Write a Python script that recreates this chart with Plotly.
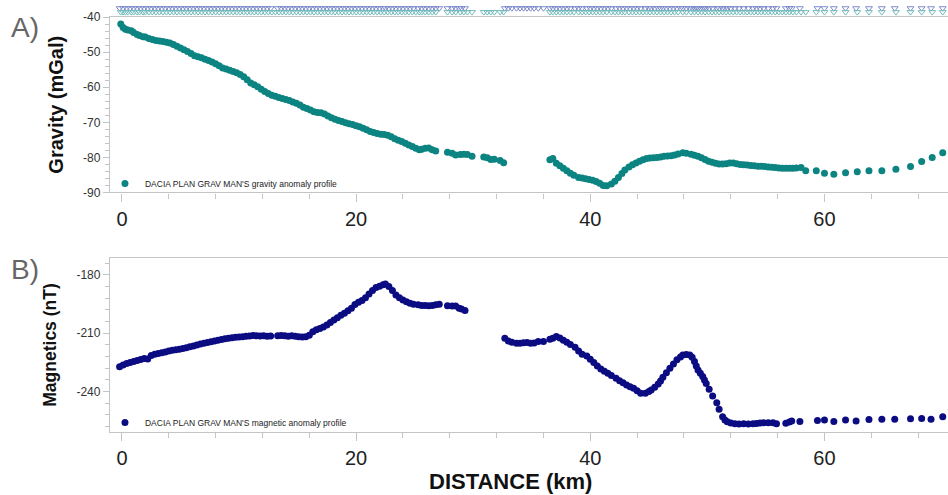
import plotly.graph_objects as go

# ---------------- data ----------------
grav_km = [-0.1, 0.1, 0.3, 0.5, 0.8, 1.0, 1.3, 1.5, 1.8, 2.0, 2.3, 2.6, 2.9, 3.2, 3.5, 3.8, 4.1, 4.4, 4.7, 5.0,
           5.3, 5.6, 5.9, 6.2, 6.5, 6.8, 7.1, 7.4, 7.7, 8.0, 8.3, 8.6, 8.9, 9.2, 9.5, 9.8, 10.1, 10.4, 10.7, 11.0,
           11.3, 11.6, 11.9, 12.2, 12.5, 12.8, 13.1, 13.4, 13.7, 14.0, 14.3, 14.6, 14.9, 15.2, 15.5, 15.8, 16.1,
           16.4, 16.7, 17.0, 17.3, 17.6, 17.9, 18.2, 18.5, 18.8, 19.1, 19.4, 19.7, 20.0, 20.3, 20.6, 20.9, 21.2,
           21.5, 21.8, 22.1, 22.4, 22.7, 23.0, 23.3, 23.6, 23.9, 24.2, 24.5, 24.8, 25.1, 25.4, 25.6, 25.9, 26.2,
           26.5, 26.8, 27.8, 28.2, 28.5, 28.9, 29.2, 29.5, 29.9, 30.9, 31.2, 31.5, 31.8, 32.3, 32.6,
           36.55, 36.8, 37.1, 37.4, 37.7, 38.0, 38.3, 38.6, 39.0, 39.3, 39.6, 39.9, 40.2, 40.5, 40.8, 41.1, 41.4,
           41.8, 42.1, 42.4, 42.7, 42.95, 43.3, 43.6, 43.9, 44.2, 44.5, 44.8, 45.1, 45.4, 45.7, 46.0, 46.3, 46.6,
           46.9, 47.2, 47.5, 47.9, 48.2, 48.6, 48.9, 49.2, 49.5, 49.8, 50.1, 50.4, 50.7, 51.0, 51.3, 51.6, 51.9,
           52.2, 52.5, 52.8, 53.1, 53.4, 53.7, 54.0, 54.3, 54.6, 54.9, 55.2, 55.5, 55.8, 56.1, 56.4, 56.7, 57.0,
           57.3, 57.6, 58.0, 58.4, 59.3, 60.0, 60.8, 61.8, 62.8, 63.8, 64.9, 66.1, 67.35, 68.3, 69.2, 70.1]
grav_mgal = [-42.0, -43.0, -43.5, -43.7, -43.9, -44.4, -45.0, -45.3, -45.6, -45.7, -46.1, -46.4, -46.7, -46.8,
             -47.0, -47.2, -47.4, -47.8, -48.3, -48.8, -49.3, -49.8, -50.4, -51.0, -51.3, -51.6, -52.0, -52.4,
             -52.8, -53.3, -53.9, -54.5, -54.8, -55.2, -55.5, -55.9, -56.4, -57.0, -57.9, -58.8, -59.3, -59.9,
             -60.6, -61.2, -61.8, -62.3, -62.6, -62.9, -63.2, -63.5, -63.8, -64.2, -64.6, -65.1, -65.7, -66.1,
             -66.5, -67.0, -67.2, -67.3, -67.6, -68.2, -68.7, -69.1, -69.5, -69.8, -70.1, -70.4, -70.6, -71.0,
             -71.3, -71.7, -72.1, -72.6, -72.9, -73.2, -73.4, -73.5, -73.7, -74.1, -74.7, -75.1, -75.5, -76.0,
             -76.5, -76.9, -77.4, -77.8, -77.7, -77.4, -77.3, -77.8, -78.2, -78.5, -78.8, -79.3, -79.2, -79.1,
             -79.2, -79.7, -79.9, -80.1, -80.6, -80.5, -80.9, -81.5,
             -80.7, -80.3, -81.7, -82.4, -83.1, -83.8, -84.5, -85.1, -85.7, -85.9, -86.1, -86.3, -86.5, -86.9,
             -87.4, -88.0, -88.1, -87.6, -86.8, -85.7, -84.6, -83.6, -82.7, -82.1, -81.6, -81.1, -80.7, -80.3,
             -80.2, -80.1, -80.0, -79.9, -79.7, -79.6, -79.5, -79.3, -79.0, -78.7, -78.8, -79.1, -79.4, -79.7,
             -80.1, -80.6, -81.1, -81.4, -81.7, -81.9, -81.9, -81.8, -81.6, -81.6, -81.8, -82.0, -82.1, -82.2,
             -82.3, -82.4, -82.5, -82.5, -82.6, -82.7, -82.8, -82.9, -83.0, -83.1, -83.1, -83.1, -83.1, -83.0,
             -82.9, -83.8, -83.8, -84.5, -84.8, -84.4, -84.1, -83.8, -83.8, -83.4, -82.6, -81.2, -80.0, -78.7]

mag_km = [-0.2, 0.1, 0.4, 0.7, 1.0, 1.3, 1.6, 1.9, 2.2, 2.5, 2.8, 3.1, 3.4, 3.7, 4.0, 4.3, 4.6, 4.9, 5.2, 5.5,
          5.8, 6.1, 6.4, 6.7, 7.0, 7.3, 7.6, 7.9, 8.2, 8.5, 8.8, 9.1, 9.4, 9.7, 10.0, 10.3, 10.6, 10.9, 11.2,
          11.5, 11.8, 12.1, 12.4, 12.7, 13.3, 13.6, 13.9, 14.2, 14.5, 14.8, 15.1, 15.4, 15.7, 16.0, 16.3, 16.6,
          16.9, 17.2, 17.5, 17.8, 18.1, 18.4, 18.7, 19.0, 19.3, 19.6, 19.9, 20.2, 20.5, 20.8, 21.1, 21.4, 21.7,
          22.0, 22.3, 22.5, 22.8, 23.1, 23.4, 23.7, 24.0, 24.3, 24.6, 24.9, 25.3, 25.6, 25.9, 26.2, 26.5, 26.8,
          27.1, 27.8, 28.2, 28.5, 28.8, 29.0, 29.3,
          32.7, 33.0, 33.3, 33.7, 34.0, 34.3, 34.6, 34.9, 35.2, 35.55, 36.0, 36.55, 36.8, 37.1, 37.4, 37.7,
          38.0, 38.3, 38.7, 39.0, 39.3, 39.7, 40.0, 40.3, 40.6, 40.9, 41.2, 41.5, 41.8, 42.2, 42.5, 42.8, 43.1,
          43.4, 43.7, 44.0, 44.3, 44.7, 45.0, 45.2, 45.5, 45.8, 46.0, 46.2, 46.5, 46.8, 47.1, 47.4, 47.7, 47.9,
          48.2, 48.5, 48.7, 48.9, 49.05, 49.2, 49.4, 49.6, 49.75, 49.9, 50.15, 50.45, 50.8, 51.0, 51.3, 51.5,
          51.7, 52.0, 52.35, 52.7, 53.1, 53.5, 53.9, 54.2, 54.5, 54.8, 55.2, 55.6, 55.9, 56.7, 57.0, 57.2, 57.9,
          59.4, 60.0, 60.8, 61.8, 62.7, 63.8, 64.9, 66.0, 67.35, 68.3, 69.1, 70.1]
mag_nt = [-227.2, -226.3, -225.6, -225.0, -224.6, -224.0, -223.5, -223.0, -223.2, -221.5, -220.8, -220.4, -220.0,
          -219.6, -219.2, -218.8, -218.5, -218.2, -217.9, -217.5, -217.0, -216.6, -216.1, -215.6, -215.2, -214.8,
          -214.4, -214.0, -213.6, -213.2, -212.9, -212.6, -212.3, -212.1, -211.9, -211.8, -211.6, -211.4, -211.2,
          -211.3, -211.4, -211.3, -211.5, -211.4, -211.3, -211.2, -211.3, -211.5, -211.3, -211.6, -211.8, -212.0,
          -211.8, -211.0, -209.2, -208.2, -207.6, -206.8, -205.8, -204.5, -203.2, -202.0, -200.8, -199.7, -198.5,
          -197.1, -195.2, -194.1, -193.2, -191.8, -189.8, -188.0, -186.5, -185.8, -185.0, -184.7, -186.0, -188.0,
          -190.3, -191.8, -192.9, -193.8, -194.6, -195.1, -195.4, -195.7, -195.8, -195.9, -195.7, -195.4, -195.1,
          -195.9, -196.0, -196.0, -197.1, -197.6, -198.3,
          -212.6, -214.0, -214.6, -215.1, -215.2, -214.9, -214.8, -215.2, -215.0, -214.3, -214.3, -213.1, -212.6,
          -211.7, -212.4, -213.6, -214.7, -215.8, -217.2, -219.2, -220.8, -221.7, -223.4, -225.0, -226.8, -228.4,
          -229.5, -230.6, -231.7, -233.1, -234.4, -235.5, -236.6, -237.5, -238.3, -239.6, -240.9, -240.9, -240.0,
          -239.2, -237.8, -236.1, -234.6, -232.7, -230.3, -228.0, -225.8, -223.7, -222.2, -221.2, -221.0, -221.2,
          -222.4, -224.6, -226.8, -228.9, -230.6, -232.3, -234.1, -235.8, -238.8, -242.3, -245.7, -249.1, -252.9,
          -254.6, -255.5, -256.2, -256.6, -256.7, -256.6, -256.7, -256.6, -256.4, -256.2, -256.0, -256.1, -256.0,
          -256.6, -256.3, -255.6, -255.1, -255.4,
          -254.9, -254.6, -255.4, -254.6, -255.1, -254.4, -254.3, -254.3, -254.0, -253.8, -254.3, -252.9]

# station marker rows drawn above the gravity panel (same mGal scale, just above -40)
mag_station_level = -37.5
grav_station_level = -38.6

x_ticks = [0, 20, 40, 60]
grav_ticks = [-90, -80, -70, -60, -50, -40]
mag_ticks = [-240, -210, -180]

grav_name = "DACIA PLAN GRAV MAN'S gravity anomaly profile"
mag_name = "DACIA PLAN GRAV MAN'S magnetic anomaly profile"

# ---------------- style ----------------
TEAL = "#0c8481"
NAVY = "#0c0c82"
FONT = "Liberation Sans, Arial, sans-serif"
AXIS_GRAY = "#c4c4c4"

fig = go.Figure()

fig.add_trace(go.Scatter(x=mag_km, y=[mag_station_level] * len(mag_km), mode="markers",
                         marker=dict(symbol="triangle-down-open", size=6, color="#7f8ccc",
                                     line=dict(width=1)),
                         xaxis="x", yaxis="y3", showlegend=False, hoverinfo="skip"))
fig.add_trace(go.Scatter(x=grav_km, y=[grav_station_level] * len(grav_km), mode="markers",
                         marker=dict(symbol="triangle-down-open", size=6, color="#72bcbc",
                                     line=dict(width=1)),
                         xaxis="x", yaxis="y3", showlegend=False, hoverinfo="skip"))

fig.add_trace(go.Scatter(x=grav_km, y=grav_mgal, mode="markers", name=grav_name,
                         marker=dict(color=TEAL, size=7), xaxis="x", yaxis="y", legend="legend"))
fig.add_trace(go.Scatter(x=mag_km, y=mag_nt, mode="markers", name=mag_name,
                         marker=dict(color=NAVY, size=7), xaxis="x2", yaxis="y2", legend="legend2"))

xcommon = dict(range=[-1.02, 70.55], tickvals=x_ticks, ticks="outside", ticklen=8, tickcolor=AXIS_GRAY,
               showline=True, linecolor=AXIS_GRAY, linewidth=1.3, showgrid=False, zeroline=False,
               tickfont=dict(family=FONT, size=20, color="#222"),
               minor=dict(dtick=4, tick0=0, ticks="outside", ticklen=5, tickcolor=AXIS_GRAY))

ycommon = dict(ticks="outside", ticklen=6, tickcolor=AXIS_GRAY, showline=True, linecolor=AXIS_GRAY,
               linewidth=1.3, showgrid=False, zeroline=False,
               tickfont=dict(family=FONT, size=12, color="#333"))

fig.update_layout(
    width=948, height=495,
    margin=dict(l=110, r=0, t=0, b=63, autoexpand=False),
    paper_bgcolor="white", plot_bgcolor="white",
    xaxis=dict(xcommon, anchor="y", mirror=True),
    xaxis2=dict(xcommon, anchor="y2", matches="x", mirror=True),
    yaxis=dict(ycommon, domain=[0.5544, 0.9606], range=[-90, -40], tickvals=grav_ticks,
               ticktext=[str(v) for v in grav_ticks],
               minor=dict(dtick=2, tick0=-90, ticks="outside", ticklen=4, tickcolor=AXIS_GRAY),
               title=dict(text="<b>Gravity (mGal)</b>", font=dict(family=FONT, size=20, color="#111"),
                          standoff=14)),
    yaxis2=dict(ycommon, domain=[0.0, 0.4028], range=[-260.8, -171.3], tickvals=mag_ticks,
                ticktext=[str(v) for v in mag_ticks],
                minor=dict(dtick=6, tick0=-180, ticks="outside", ticklen=4, tickcolor=AXIS_GRAY),
                title=dict(text="<b>Magnetics (nT)</b>", font=dict(family=FONT, size=17.5, color="#111"),
                           standoff=15)),
    yaxis3=dict(domain=[0.9606, 1.0], range=[-40, -35.16], anchor="x", visible=False, fixedrange=True),
    legend=dict(x=-0.006, y=0.575, xanchor="left", yanchor="middle", bgcolor="rgba(0,0,0,0)",
                font=dict(family=FONT, size=8.5, color="#222"), itemwidth=30, tracegroupgap=0),
    legend2=dict(x=-0.006, y=0.022, xanchor="left", yanchor="middle", bgcolor="rgba(0,0,0,0)",
                 font=dict(family=FONT, size=8.5, color="#222"), itemwidth=30, tracegroupgap=0),
    annotations=[
        dict(text="A)", xref="paper", yref="paper", x=-0.121, y=0.9375, xanchor="left", yanchor="middle",
             showarrow=False, font=dict(family=FONT, size=28, color="#666")),
        dict(text="B)", xref="paper", yref="paper", x=-0.121, y=0.377, xanchor="left", yanchor="middle",
             showarrow=False, font=dict(family=FONT, size=28, color="#666")),
        dict(text="<b>DISTANCE (km)</b>", xref="paper", yref="paper", x=0.4785, y=-0.114,
             xanchor="center", yanchor="middle", showarrow=False,
             font=dict(family=FONT, size=22, color="#111")),
    ],
)

fig.write_html("out.html")
